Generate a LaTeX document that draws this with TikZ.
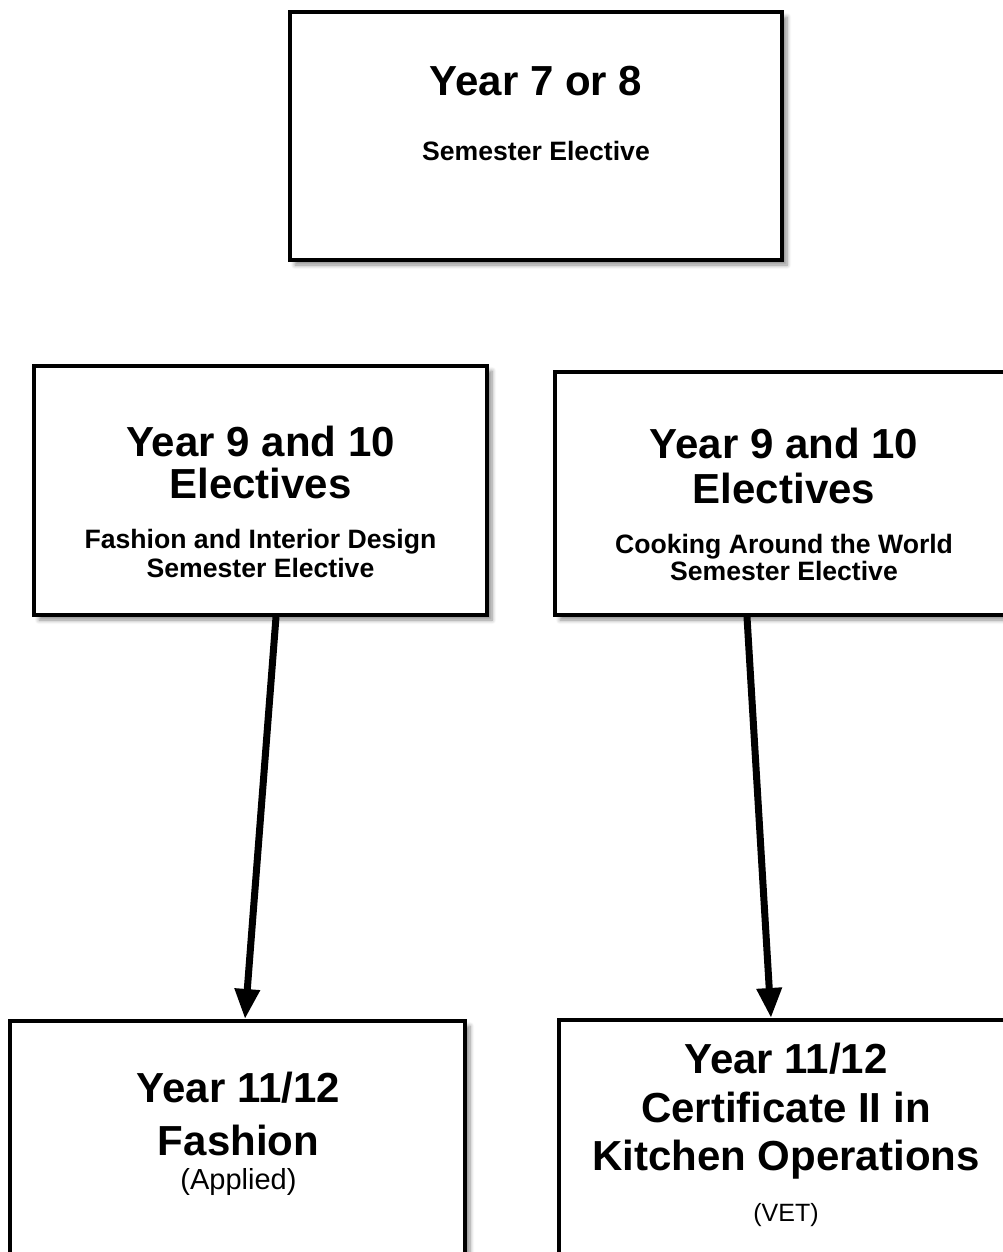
\documentclass[tikz,border=0pt]{standalone}
\usepackage{fontspec}
\setmainfont{Liberation Sans}
\usetikzlibrary{arrows.meta,shadows.blur}

\begin{document}
\begin{tikzpicture}[x=0.5pt,y=-0.5pt,
  box/.style={draw,line width=2pt,fill=white,inner sep=0pt,
    blur shadow={shadow xshift=2.5pt,shadow yshift=-2.5pt,
      shadow blur steps=6,shadow opacity=45}},
  head/.style={anchor=base,inner sep=0pt,
    font=\bfseries\fontsize{21}{21}\selectfont},
  sub/.style={anchor=base,inner sep=0pt,
    font=\bfseries\fontsize{13.3}{14}\selectfont},
  note/.style={anchor=base,inner sep=0pt},
  link/.style={line width=3.5pt,-{Triangle[width=12pt,length=15pt]}}]

  \useasboundingbox (0,0) rectangle (1002,1252);

  % boxes
  \node[box,minimum width=246pt,minimum height=124pt] (y78) at (536,136) {};
  \node[box,minimum width=226.5pt,minimum height=124.5pt] (y910fash) at (260.5,490.5) {};
  \node[box,minimum width=229pt,minimum height=121.5pt] (y910cook) at (784,493.5) {};
  \node[box,minimum width=227.5pt,minimum height=127pt] (y1112fash) at (237.5,1148) {};
  \node[box,minimum width=227pt,minimum height=127.5pt] (y1112kitch) at (786,1147.5) {};

  \node[head] (y78a) at (536,96) {Year 7 or 8};
  \node[sub] (y78b) at (536,160) {Semester Elective};

  \node[head] (fasha) at (260.5,456) {Year 9 and 10};
  \node[head] (fashb) at (260.5,498) {Electives};
  \node[sub] (fashc) at (260.5,548) {Fashion and Interior Design};
  \node[sub] (fashd) at (260.5,577) {Semester Elective};

  \node[head] (cooka) at (784,458) {Year 9 and 10};
  \node[head] (cookb) at (784,503) {Electives};
  \node[sub] (cookc) at (784,553) {Cooking Around the World};
  \node[sub] (cookd) at (784,580) {Semester Elective};

  \node[head] (appa) at (238.5,1102) {Year 11/12};
  \node[head] (appb) at (238.5,1155) {Fashion};
  \node[note,font=\fontsize{14.5}{15}\selectfont] (appc) at (238.5,1189) {(Applied)};

  \node[head] (veta) at (786,1073) {Year 11/12};
  \node[head] (vetb) at (786,1122) {Certificate II in};
  \node[head] (vetc) at (786,1170) {Kitchen Operations};
  \node[note,font=\fontsize{12.5}{13}\selectfont] (vetd) at (786,1221) {(VET)};

  % pathways
  \draw[link] ([xshift=7.75pt]y910fash.south) -- ([xshift=3.75pt]y1112fash.north);
  \draw[link] ([xshift=-18.5pt]y910cook.south) -- ([xshift=-7.5pt]y1112kitch.north);
\end{tikzpicture}
\end{document}
